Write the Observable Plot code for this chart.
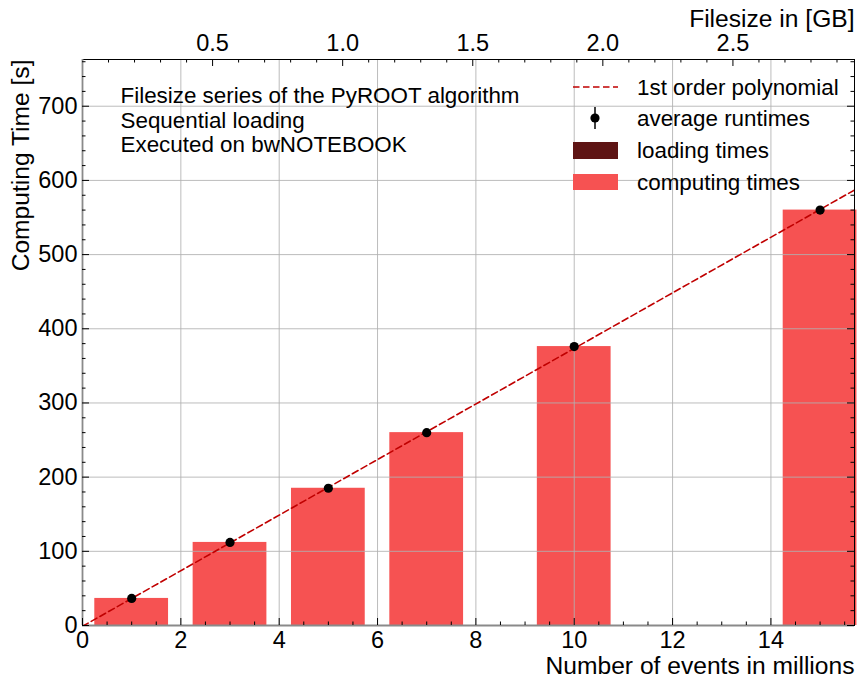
<!DOCTYPE html>
<html>
<head>
<meta charset="utf-8">
<script src="https://cdn.jsdelivr.net/npm/d3@7"></script>
<script src="https://cdn.jsdelivr.net/npm/@observablehq/plot@0.6"></script>
<style>
  html, body { margin: 0; padding: 0; background: #fff; }
  #chart { width: 859px; height: 679px; }
  #chart svg { overflow: visible; }
</style>
</head>
<body>
<div id="chart"></div>
<script>
// Benchmark: PyROOT algorithm, file-size series, sequential loading
const events = [1, 3, 5, 7, 10, 15];                       // millions of events
const loadingTimes = [0, 0, 0, 0, 0, 0];                    // seconds
const computingTimes = [36.5, 112, 185, 260, 376, 560];     // seconds
const xTicks = [0, 2, 4, 6, 8, 10, 12, 14];
const yTicks = [0, 100, 200, 300, 400, 500, 600, 700];
const gbTicks = [0.5, 1.0, 1.5, 2.0, 2.5];
const gbPerMillionEvents = 0.189;                           // file size per million events
const annotation = [
  "Filesize series of the PyROOT algorithm",
  "Sequential loading",
  "Executed on bwNOTEBOOK"
];
const legendLabels = ["1st order polynomial", "average runtimes", "loading times", "computing times"];

const W = 859, H = 679;
const mL = 82, mR = 5, mT = 59, mB = 54;
const innerW = W - mL - mR, innerH = H - mT - mB;
const xDomain = [0, 15.7], yDomain = [0, 763];
const barHalf = 0.75;
const font = "'Liberation Sans', Arial, Helvetica, sans-serif";
const computingColor = "#f65252", loadingColor = "#5e1414", fitColor = "#c00000";
const tickFont = 23.5, titleFont = 24.6, textFont = 22.4;

const totals = events.map((e, i) => loadingTimes[i] + computingTimes[i]);
const rows = events.map((e, i) => ({event: e, loading: loadingTimes[i], computing: computingTimes[i], total: totals[i]}));

// least-squares straight line through the average runtimes
const mx = d3.mean(events), my = d3.mean(totals);
const slope = d3.sum(events, (x, i) => (x - mx) * (totals[i] - my)) / d3.sum(events, x => (x - mx) ** 2);
const intercept = my - slope * mx;
const fitLine = xDomain.map(x => ({x, y: intercept + slope * x}));

// tick positions
const xMinor = d3.range(0.5, xDomain[1], 0.5).filter(v => v % 2 !== 0);
const yMinor = d3.range(20, yDomain[1], 20).filter(v => v % 100 !== 0);
const gbMinor = d3.range(1, 30).filter(i => i % 5 !== 0).map(i => i / 10);
const toEvents = g => g / gbPerMillionEvents;
const topMajor = gbTicks.map(toEvents);
const topMinor = gbMinor.map(toEvents).filter(v => v <= xDomain[1]);

const MAJ = 7, MIN = 3.5;
const tickStyle = {stroke: "black", strokeWidth: 1};
const bottomTicks = (v, L) => Plot.ruleX(v, {x: d => d, insetTop: innerH - L, ...tickStyle});
const topTicks = (v, L) => Plot.ruleX(v, {x: d => d, insetBottom: innerH - L, ...tickStyle});
const leftTicks = (v, L) => Plot.ruleY(v, {y: d => d, insetRight: innerW - L, ...tickStyle});
const rightTicks = (v, L) => Plot.ruleY(v, {y: d => d, insetLeft: innerW - L, ...tickStyle});

const gridStyle = {stroke: "#b0b0b0", strokeWidth: 1, strokeOpacity: 0.85};

const chart = Plot.plot({
  width: W, height: H,
  marginLeft: mL, marginRight: mR, marginTop: mT, marginBottom: mB,
  style: {fontFamily: font, fontSize: "21px", color: "black", background: "white"},
  x: {domain: xDomain, axis: null},
  y: {domain: yDomain, axis: null},
  marks: [
    // stacked bars
    Plot.rectY(rows, {x1: d => d.event - barHalf, x2: d => d.event + barHalf, y1: 0, y2: "loading", fill: loadingColor}),
    Plot.rectY(rows, {x1: d => d.event - barHalf, x2: d => d.event + barHalf, y1: "loading", y2: "total", fill: computingColor}),
    // grid
    Plot.gridX(xTicks.filter(v => v > 0), gridStyle),
    Plot.gridY(yTicks.filter(v => v > 0), gridStyle),
    Plot.frame({stroke: "black", strokeWidth: 1}),
    Plot.gridX([0], {stroke: "#8a8a8a", strokeWidth: 1.8, strokeOpacity: 1}),
    Plot.gridY([0], {stroke: "#8a8a8a", strokeWidth: 1.8, strokeOpacity: 1}),
    // inward ticks on all four sides
    bottomTicks(xTicks, MAJ), bottomTicks(xMinor, MIN),
    topTicks(topMajor, MAJ), topTicks(topMinor, MIN),
    leftTicks(yTicks, MAJ), leftTicks(yMinor, MIN),
    rightTicks(yTicks, MAJ), rightTicks(yMinor, MIN),
    // tick labels
    Plot.axisX(xTicks, {anchor: "bottom", tickSize: 0, tickPadding: 6, label: null, fontSize: tickFont}),
    Plot.axisX(topMajor, {anchor: "top", tickSize: 0, tickPadding: 9, label: null, fontSize: tickFont,
      tickFormat: d => (d * gbPerMillionEvents).toFixed(1)}),
    Plot.axisY(yTicks, {anchor: "left", tickSize: 0, tickPadding: 5, label: null, fontSize: tickFont}),
    // fit and measured points
    Plot.line(fitLine, {x: "x", y: "y", stroke: fitColor, strokeWidth: 1.6, strokeDasharray: "6.5,3.5", clip: true}),
    Plot.dot(rows, {x: "event", y: "total", r: 4.6, fill: "black"}),
    // annotation block
    Plot.text([annotation.join("\n")], {frameAnchor: "top-left", dx: 38, dy: 26, lineAnchor: "top",
      textAnchor: "start", lineHeight: 1.1, fontSize: textFont, fill: "black"}),
    // axis titles
    Plot.text(["Number of events in millions"], {frameAnchor: "bottom-right", dy: 48, textAnchor: "end", fontSize: titleFont, fill: "black"}),
    Plot.text(["Filesize in [GB]"], {frameAnchor: "top-right", dy: -50, textAnchor: "end", fontSize: titleFont, fill: "black"}),
    Plot.text(["Computing Time [s]"], {frameAnchor: "top-left", dx: -71, rotate: -90, textAnchor: "end", fontSize: titleFont, fill: "black"})
  ]
});

document.getElementById("chart").appendChild(chart);

// legend, drawn into the same SVG
const svg = d3.select(chart);
const lg = svg.append("g").attr("font-family", font).attr("font-size", textFont).attr("text-anchor", "start");
const rowY = [87, 118, 150, 182];
const hx0 = 573, hx1 = 618, tx = 637;
lg.append("line").attr("x1", hx0).attr("x2", hx1).attr("y1", rowY[0]).attr("y2", rowY[0])
  .attr("stroke", fitColor).attr("stroke-width", 1.6).attr("stroke-dasharray", "6.5,3.5");
lg.append("line").attr("x1", 595).attr("x2", 595).attr("y1", rowY[1] - 11).attr("y2", rowY[1] + 11)
  .attr("stroke", "black").attr("stroke-width", 1.5);
lg.append("circle").attr("cx", 595).attr("cy", rowY[1]).attr("r", 4.6).attr("fill", "black");
lg.append("rect").attr("x", hx0).attr("y", rowY[2] - 8).attr("width", hx1 - hx0).attr("height", 17).attr("fill", loadingColor);
lg.append("rect").attr("x", hx0).attr("y", rowY[3] - 8).attr("width", hx1 - hx0).attr("height", 16).attr("fill", computingColor);
legendLabels.forEach((t, i) => {
  lg.append("text").attr("x", tx).attr("y", rowY[i]).attr("dy", "0.35em").attr("text-anchor", "start")
    .attr("fill", "black").text(t);
});
</script>
</body>
</html>
